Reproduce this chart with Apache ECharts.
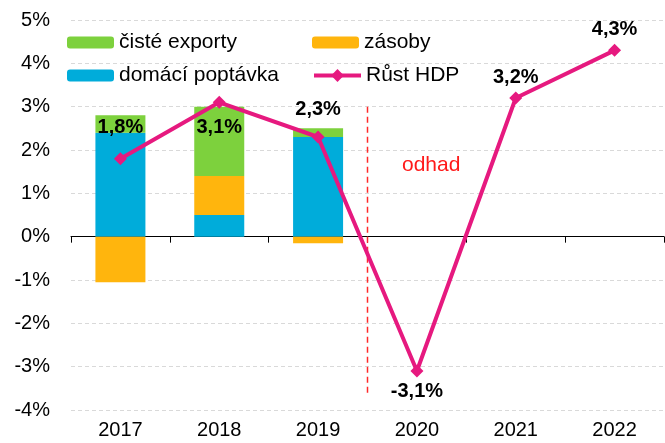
<!DOCTYPE html>
<html>
<head>
<meta charset="utf-8">
<script src="https://cdn.jsdelivr.net/npm/echarts@6/dist/echarts.min.js"></script>
<style>
  html, body { margin: 0; padding: 0; background: #fff; }
  #main { width: 665px; height: 443px; }
</style>
</head>
<body>
<div id="main"></div>
<script>
// data
var years = ['2017', '2018', '2019', '2020', '2021', '2022'];
var domaciPoptavka = [2.4, 0.5, 2.3, null, null, null];
var zasoby = [-1.05, 0.9, -0.15, null, null, null];
var cisteExporty = [0.4, 1.6, 0.2, null, null, null];
var rustHDP = [1.8, 3.1, 2.3, -3.1, 3.2, 4.3];
var yTicks = [-4, -3, -2, -1, 0, 1, 2, 3, 4, 5];
// hranice odhadu (mezi 2019 a 2020)
var odhadX = [2.5, 2.5];
var odhadY = [3.0, -3.6];

// popisky: nad / pod bodem
var labelPos = ['top', 'bottom', 'top', 'bottom', 'top', 'top'];
var labelDist = [15, 9, 11, 4, 4, 4];

var font = 'Liberation Sans, Arial, sans-serif';
var cBlue = '#00ACDA', cOrange = '#FFB50D', cGreen = '#7DD13D', cPink = '#E6197F';

function pct(v) { return v.toFixed(1).replace('.', ',') + '%'; }

var myChart = echarts.init(document.getElementById('main'));

var legendBase = function (item, left, top, h) {
    return {
        data: [item], left: left, top: top, padding: 0, itemGap: 0,
        itemWidth: 47, itemHeight: h || 12, selectedMode: false,
        textStyle: { fontFamily: font, fontSize: 21, color: '#000' }
    };
};

option = {
    animation: false,
    textStyle: { fontFamily: font },
    legend: [
        legendBase('čisté exporty', 67, 32),
        legendBase('zásoby', 312, 32),
        legendBase('domácí poptávka', 67, 65),
        legendBase({ name: 'Růst HDP', lineStyle: { width: 4 }, itemStyle: { color: cPink } }, 312, 65, 16)
    ],
    graphic: [{
        type: 'text', left: 402, top: 155,
        style: { text: 'odhad', fill: '#FF1A1A', font: '21px ' + font }
    }],
    grid: { left: 71, right: 1, top: 20, bottom: 33 },
    xAxis: [
        {
            type: 'category', data: years, position: 'bottom',
            axisLine: { show: false, onZero: false },
            axisTick: { show: false },
            axisLabel: { fontSize: 20, color: '#000', margin: 10 }
        },
        {
            type: 'category', data: years, position: 'bottom',
            axisLine: { show: true, onZero: true, lineStyle: { color: '#000', width: 1 } },
            axisTick: { show: true, inside: false, length: 6, lineStyle: { color: '#000' } },
            axisLabel: { show: false }
        },
        {
            type: 'value', min: -0.5, max: 5.5, show: false
        }
    ],
    yAxis: {
        type: 'value', min: yTicks[0], max: yTicks[yTicks.length - 1], interval: 1,
        axisLine: { show: false },
        axisTick: { show: false },
        axisLabel: { fontSize: 20, color: '#000', margin: 21, formatter: function (v) { return v + '%'; } },
        splitLine: { lineStyle: { color: '#D9D9D9', type: [4, 3], width: 1 } }
    },
    series: [
        {
            name: 'domácí poptávka', type: 'bar', stack: 'hdp', barWidth: 50,
            itemStyle: { color: cBlue }, data: domaciPoptavka
        },
        {
            name: 'zásoby', type: 'bar', stack: 'hdp', barWidth: 50,
            itemStyle: { color: cOrange }, data: zasoby
        },
        {
            name: 'čisté exporty', type: 'bar', stack: 'hdp', barWidth: 50,
            itemStyle: { color: cGreen }, data: cisteExporty
        },
        {
            name: 'odhad', type: 'line', xAxisIndex: 2, symbol: 'none', silent: true,
            lineStyle: { color: '#FF2A2A', width: 1.5, type: [6, 4] },
            data: odhadX.map(function (x, i) { return [x, odhadY[i]]; })
        },
        {
            name: 'Růst HDP', type: 'line', symbol: 'diamond', symbolSize: 13,
            lineStyle: { color: cPink, width: 4 },
            itemStyle: { color: cPink },
            label: {
                show: true, fontSize: 20, fontWeight: 'bold', color: '#000',
                formatter: function (p) { return pct(p.value); }
            },
            data: rustHDP.map(function (v, i) {
                return { value: v, label: { position: labelPos[i], distance: labelDist[i] } };
            })
        }
    ]
};

myChart.setOption(option);
</script>
</body>
</html>
